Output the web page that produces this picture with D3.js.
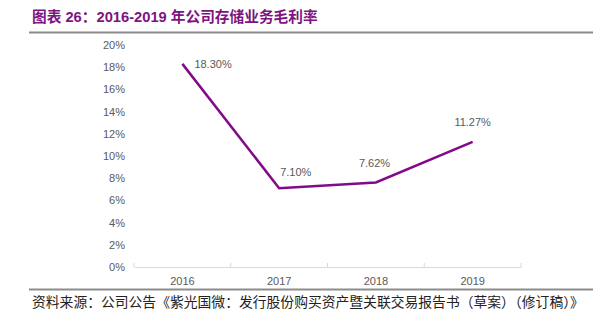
<!DOCTYPE html>
<html>
<head>
<meta charset="utf-8">
<script src="https://cdn.jsdelivr.net/npm/d3@7"></script>
<style>
  body { margin: 0; background: #fff; }
  svg { display: block; }
</style>
</head>
<body>
<div id="wrapper"></div>
<script>
const years = ["2016", "2017", "2018", "2019"];
const margins = [18.30, 7.10, 7.62, 11.27];
const yTicks = [0, 2, 4, 6, 8, 10, 12, 14, 16, 18, 20];
const titleText = "图表 26：2016-2019 年公司存储业务毛利率";
const sourceText = "资料来源：公司公告《紫光国微：发行股份购买资产暨关联交易报告书（草案）（修订稿）》";

function drawChart() {
    const dimensions = {
        width: 593,
        height: 327,
        margin: { top: 45, right: 72, bottom: 60, left: 134 },
    }
    dimensions.boundedWidth = dimensions.width - dimensions.margin.left - dimensions.margin.right
    dimensions.boundedHeight = dimensions.height - dimensions.margin.top - dimensions.margin.bottom

    const svg = d3.select("#wrapper")
        .append("svg")
        .attr("width", dimensions.width)
        .attr("height", dimensions.height);

    // title + rules
    svg.append("text")
        .attr("x", 32)
        .attr("y", 22)
        .text(titleText)
        .attr("fill", "#7d1480")
        .attr("font-family", "'Liberation Sans', 'Noto Sans CJK SC', sans-serif")
        .attr("font-weight", "bold")
        .attr("font-size", "14.7px");

    svg.append("line")
        .attr("x1", 29).attr("x2", 593)
        .attr("y1", 32.5).attr("y2", 32.5)
        .attr("stroke", "#8c8c8c")
        .attr("stroke-width", 2);

    svg.append("line")
        .attr("x1", 29).attr("x2", 593)
        .attr("y1", 289.5).attr("y2", 289.5)
        .attr("stroke", "#8c8c8c")
        .attr("stroke-width", 2);

    svg.append("text")
        .attr("x", 32)
        .attr("y", 307)
        .text(sourceText)
        .attr("fill", "#222")
        .attr("font-family", "'Noto Sans CJK SC', sans-serif")
        .attr("font-size", "13.8px");

    const bounds = svg.append("g")
        .attr("transform", `translate(${dimensions.margin.left},${dimensions.margin.top})`);

    const xScaler = d3.scaleBand()
        .domain(years)
        .range([0, dimensions.boundedWidth])
        .paddingInner(0)
        .paddingOuter(0)

    const yScaler = d3.scaleLinear()
        .domain([0, 20])
        .range([dimensions.boundedHeight, 0])

    // y axis (labels only)
    const yAxis = bounds.append("g")
        .call(d3.axisLeft(yScaler).tickValues(yTicks).tickFormat(d => d + "%").tickSize(0).tickPadding(9));
    yAxis.select(".domain").remove();
    yAxis.selectAll("text")
        .attr("fill", "#595959")
        .attr("font-family", "'Liberation Sans', Arial, sans-serif")
        .attr("font-size", "11px");

    // x axis
    const xAxis = bounds.append("g")
        .attr("transform", `translate(0,${dimensions.boundedHeight})`)
        .call(d3.axisBottom(xScaler).tickSize(0).tickPadding(10));
    xAxis.select(".domain").attr("stroke", "#d9d9d9");
    xAxis.selectAll("text")
        .attr("fill", "#595959")
        .attr("font-family", "'Liberation Sans', Arial, sans-serif")
        .attr("font-size", "11px");

    // band separators on the axis
    bounds.append("g")
        .selectAll("line")
        .data(years.concat(["end"]))
        .enter()
        .append("line")
        .attr("x1", (d, i) => i < years.length ? xScaler(d) : xScaler.range()[1])
        .attr("x2", (d, i) => i < years.length ? xScaler(d) : xScaler.range()[1])
        .attr("y1", dimensions.boundedHeight - 4)
        .attr("y2", dimensions.boundedHeight)
        .attr("stroke", "#d9d9d9");

    const cx = d => xScaler(d) + xScaler.bandwidth() / 2;

    const line = d3.line()
        .x((d, i) => cx(years[i]))
        .y(d => yScaler(d));

    bounds.append("path")
        .datum(margins)
        .attr("d", line)
        .attr("fill", "none")
        .attr("stroke", "#820a8a")
        .attr("stroke-width", 2.5)
        .attr("stroke-linejoin", "miter");

    // value labels
    const labelOffsets = [
        { dx: 12, dy: 4, anchor: "start" },
        { dx: 1, dy: -12, anchor: "start" },
        { dx: -17, dy: -15, anchor: "start" },
        { dx: 0, dy: -16, anchor: "middle" },
    ];

    bounds.append("g")
        .selectAll("text")
        .data(margins)
        .enter()
        .append("text")
        .attr("x", (d, i) => cx(years[i]) + labelOffsets[i].dx)
        .attr("y", (d, i) => yScaler(d) + labelOffsets[i].dy)
        .attr("text-anchor", (d, i) => labelOffsets[i].anchor)
        .text(d => d.toFixed(2) + "%")
        .attr("fill", "#595959")
        .attr("font-family", "'Liberation Sans', Arial, sans-serif")
        .attr("font-size", "11px");
}

drawChart();
</script>
</body>
</html>
